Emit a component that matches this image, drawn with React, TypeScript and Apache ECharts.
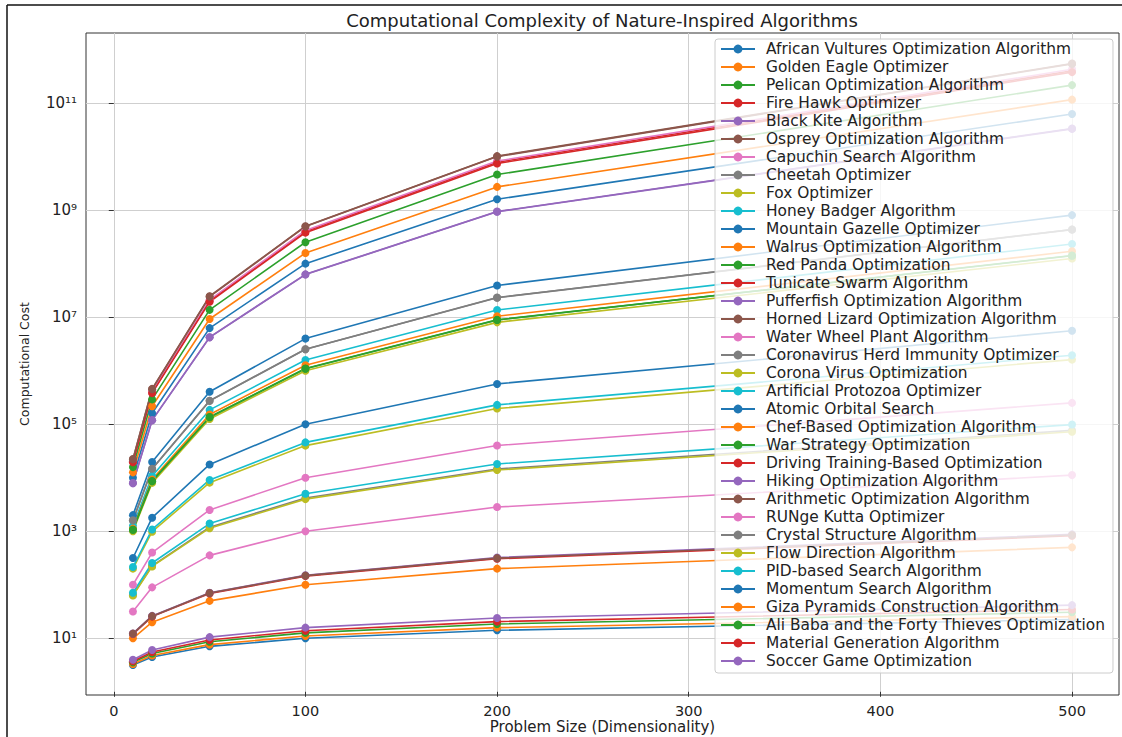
import React, { useEffect, useRef } from "react";
import * as echarts from "echarts";

// Problem sizes (dimensionality) on the x axis
const problemSizes = [10, 20, 50, 100, 200, 500];

// Legend / series names, in drawing order
const algorithmNames = [
  "African Vultures Optimization Algorithm",
  "Golden Eagle Optimizer",
  "Pelican Optimization Algorithm",
  "Fire Hawk Optimizer",
  "Black Kite Algorithm",
  "Osprey Optimization Algorithm",
  "Capuchin Search Algorithm",
  "Cheetah Optimizer",
  "Fox Optimizer",
  "Honey Badger Algorithm",
  "Mountain Gazelle Optimizer",
  "Walrus Optimization Algorithm",
  "Red Panda Optimization",
  "Tunicate Swarm Algorithm",
  "Pufferfish Optimization Algorithm",
  "Horned Lizard Optimization Algorithm",
  "Water Wheel Plant Algorithm",
  "Coronavirus Herd Immunity Optimizer",
  "Corona Virus Optimization",
  "Artificial Protozoa Optimizer",
  "Atomic Orbital Search",
  "Chef-Based Optimization Algorithm",
  "War Strategy Optimization",
  "Driving Training-Based Optimization",
  "Hiking Optimization Algorithm",
  "Arithmetic Optimization Algorithm",
  "RUNge Kutta Optimizer",
  "Crystal Structure Algorithm",
  "Flow Direction Algorithm",
  "PID-based Search Algorithm",
  "Momentum Search Algorithm",
  "Giza Pyramids Construction Algorithm",
  "Ali Baba and the Forty Thieves Optimization",
  "Material Generation Algorithm",
  "Soccer Game Optimization",
];

// Computational cost per algorithm at each problem size
const costs: number[][] = [
  [1.0e4, 1.6e5, 6.25e6, 1.0e8, 1.6e9, 6.25e10],
  [1.26e4, 2.16e5, 9.25e6, 1.58e8, 2.72e9, 1.16e11],
  [1.58e4, 2.91e5, 1.37e7, 2.51e8, 4.62e9, 2.17e11],
  [2.0e4, 3.93e5, 2.02e7, 3.98e8, 7.84e9, 4.03e11],
  [7.94e3, 1.19e5, 4.23e6, 6.31e7, 9.42e8, 3.36e10],
  [2.24e4, 4.57e5, 2.46e7, 5.01e8, 1.02e10, 5.5e11],
  [2.04e4, 4.05e5, 2.1e7, 4.17e8, 8.27e9, 4.29e11],
  [1.59e3, 1.46e4, 2.73e5, 2.51e6, 2.31e7, 4.33e8],
  [1.0e3, 8.0e3, 1.25e5, 1.0e6, 8.0e6, 1.25e8],
  [1.26e3, 1.08e4, 1.85e5, 1.58e6, 1.36e7, 2.33e8],
  [2.0e3, 1.97e4, 4.04e5, 3.98e6, 3.92e7, 8.07e8],
  [1.12e3, 9.29e3, 1.52e5, 1.26e6, 1.04e7, 1.7e8],
  [1.07e3, 8.65e3, 1.36e5, 1.1e6, 8.9e6, 1.42e8],
  [1.95e4, 3.81e5, 1.94e7, 3.8e8, 7.44e9, 3.79e11],
  [7.9e3, 1.18e5, 4.2e6, 6.25e7, 9.3e8, 3.3e10],
  [2.2e4, 4.5e5, 2.42e7, 4.95e8, 1.0e10, 5.4e11],
  [31.6, 89.4, 354, 1.0e3, 2.83e3, 1.12e4],
  [1.6e3, 1.47e4, 2.75e5, 2.52e6, 2.33e7, 4.35e8],
  [200, 982, 8.09e3, 3.98e4, 1.96e5, 1.61e6],
  [214, 1.08e3, 9.09e3, 4.57e4, 2.3e5, 1.94e6],
  [316, 1.79e3, 1.77e4, 1.0e5, 5.66e5, 5.59e6],
  [10, 20, 50, 100, 200, 500],
  [1.07e3, 8.6e3, 1.35e5, 1.09e6, 8.85e6, 1.41e8],
  [12.0, 25.4, 68.4, 145, 306, 822],
  [12.3, 26.2, 71.1, 151, 322, 875],
  [12.2, 25.9, 69.9, 148, 314, 849],
  [100, 400, 2.5e3, 1.0e4, 4.0e4, 2.5e5],
  [64.6, 226, 1.19e3, 4.17e3, 1.46e4, 7.68e4],
  [63.1, 220, 1.14e3, 3.98e3, 1.39e4, 7.21e4],
  [70.8, 255, 1.39e3, 5.01e3, 1.81e4, 9.84e4],
  [3.16, 4.47, 7.07, 10.0, 14.1, 22.4],
  [3.31, 4.75, 7.62, 11.0, 15.8, 25.4],
  [3.55, 5.19, 8.6, 12.6, 18.5, 30.6],
  [3.72, 5.52, 9.29, 13.8, 20.5, 34.5],
  [3.98, 6.03, 10.5, 15.8, 24.0, 41.6],
];

// Tick positions
const xTicks = [0, 100, 200, 300, 400, 500];
const yTickExponents = [1, 3, 5, 7, 9, 11];

const palette = [
  "#1f77b4", "#ff7f0e", "#2ca02c", "#d62728", "#9467bd",
  "#8c564b", "#e377c2", "#7f7f7f", "#bcbd22", "#17becf",
];

const SUP: Record<string, string> = {
  "0": "⁰", "1": "¹", "2": "²", "3": "³", "4": "⁴",
  "5": "⁵", "6": "⁶", "7": "⁷", "8": "⁸", "9": "⁹", "-": "⁻",
};
const toPow10Label = (exp: number) =>
  "10" + String(Math.round(exp)).split("").map((c) => SUP[c] || c).join("");

const FONT = "DejaVu Sans";
const TEXT = "#222222";

export default function App() {
  const ref = useRef<HTMLDivElement>(null);

  useEffect(() => {
    if (!ref.current) return;
    const chart = echarts.init(ref.current, undefined, { renderer: "svg" });

    const series = algorithmNames.map((name, i) => ({
      name,
      type: "line",
      data: problemSizes.map((d, j) => [d, Math.log10(costs[i][j])]),
      symbol: "circle",
      symbolSize: 8,
      showAllSymbol: true,
      color: palette[i % palette.length],
      lineStyle: { width: 1.6 },
      emphasis: { disabled: true },
    }));

    chart.setOption({
      animation: false,
      backgroundColor: "#ffffff",
      textStyle: { fontFamily: FONT },
      title: {
        text: "Computational Complexity of Nature-Inspired Algorithms",
        left: 602,
        top: 11,
        padding: 0,
        textAlign: "center",
        textStyle: { fontFamily: FONT, fontSize: 18, fontWeight: "normal", color: TEXT },
      },
      grid: {
        left: 86,
        top: 33,
        width: 1033,
        height: 662,
        show: true,
        borderColor: "#333333",
        borderWidth: 1,
        backgroundColor: "transparent",
        containLabel: false,
        outerBoundsMode: "none",
      },
      legend: {
        data: algorithmNames,
        orient: "vertical",
        left: 715,
        top: 39,
        padding: [1, 8, 3, 5],
        itemGap: 0,
        itemWidth: 34,
        itemHeight: 11,
        selectedMode: false,
        backgroundColor: "rgba(255,255,255,0.8)",
        borderColor: "#cccccc",
        borderWidth: 1,
        borderRadius: 3,
        textStyle: {
          fontFamily: FONT,
          fontSize: 15.4,
          color: TEXT,
          lineHeight: 18,
          padding: [0, 0, 0, 6],
        },
      },
      xAxis: {
        type: "value",
        min: -14.5,
        max: 524.5,
        name: "Problem Size (Dimensionality)",
        nameLocation: "middle",
        nameGap: 24,
        nameMoveOverlap: false,
        nameTextStyle: { fontFamily: FONT, fontSize: 15, color: TEXT },
        axisLine: { show: false },
        axisTick: { show: true, length: 5, customValues: xTicks, lineStyle: { color: "#333333" } },
        axisLabel: {
          customValues: xTicks,
          fontFamily: FONT,
          fontSize: 14.5,
          color: TEXT,
          margin: 8,
        },
        splitLine: { show: true, lineStyle: { color: "#cfcfcf", width: 1 } },
      },
      yAxis: {
        type: "value",
        min: -0.06,
        max: 12.31,
        name: "Computational Cost",
        nameLocation: "middle",
        nameGap: 55,
        nameMoveOverlap: false,
        nameTextStyle: { fontFamily: FONT, fontSize: 12.5, color: TEXT },
        axisLine: { show: false },
        axisTick: { show: true, length: 5, customValues: yTickExponents, lineStyle: { color: "#333333" } },
        axisLabel: {
          customValues: yTickExponents,
          fontFamily: FONT,
          fontSize: 15,
          color: TEXT,
          margin: 9,
          formatter: (v: number) => toPow10Label(v),
        },
        splitLine: { show: true, lineStyle: { color: "#cfcfcf", width: 1 } },
      },
      graphic: [
        { type: "line", shape: { x1: 7, y1: 5, x2: 1122, y2: 5 }, style: { stroke: "#111111", lineWidth: 1.5 } },
        { type: "line", shape: { x1: 7, y1: 5, x2: 7, y2: 737 }, style: { stroke: "#111111", lineWidth: 1.5 } },
      ],
      series,
    });

    return () => chart.dispose();
  }, []);

  return (
    <div
      ref={ref}
      style={{ position: "fixed", left: 0, top: 0, width: 1122, height: 737, background: "#fff" }}
    />
  );
}
